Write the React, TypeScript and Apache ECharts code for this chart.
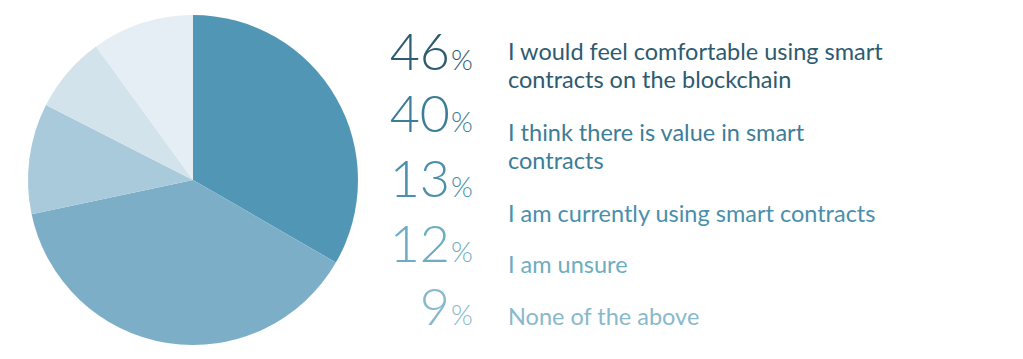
import React, { useEffect, useRef } from "react";
import * as echarts from "echarts";

// Pie slice shares as drawn in the picture (clockwise from 12 o'clock)
const sliceShares = [40, 46, 13, 9, 12];
const sliceColors = ["#5197b5", "#7cafc7", "#a8cadb", "#d2e3eb", "#e5eef4"];

// Legend rows
const percents = [46, 40, 13, 12, 9];
const labels = [
  "I would feel comfortable using smart\ncontracts on the blockchain",
  "I think there is value in smart\ncontracts",
  "I am currently using smart contracts",
  "I am unsure",
  "None of the above",
];
const rowColors = ["#2d5b6f", "#3d7d98", "#4a8fac", "#6eadc1", "#88b9cb"];

// layout (baselines in px)
const numBaselines = [70, 131.7, 196.7, 261.7, 325];
const labelBaselines = [60, 140.7, 221.7, 273.3, 325];

const CENTRAL = 0.387; // Lato: alphabetic baseline - central baseline (em)

export default function App() {
  const ref = useRef<HTMLDivElement>(null);
  useEffect(() => {
    document.body.style.margin = "0";
    const chart = echarts.init(ref.current!, null, { renderer: "svg" });
    const graphics: any[] = [];
    percents.forEach((p, i) => {
      const numFs = 52;
      const pctFs = 28;
      graphics.push({
        type: "text",
        x: 450,
        y: numBaselines[i] - CENTRAL * numFs,
        silent: true,
        style: {
          text: String(p),
          fontFamily: "Lato",
          fontWeight: 300,
          fontSize: numFs,
          fill: rowColors[i],
          align: "right",
          verticalAlign: "middle",
        },
      });
      graphics.push({
        type: "text",
        x: 451,
        y: numBaselines[i] - CENTRAL * pctFs,
        silent: true,
        style: {
          text: "%",
          fontFamily: "Lato",
          fontWeight: 300,
          fontSize: pctFs,
          fill: rowColors[i],
          align: "left",
          verticalAlign: "middle",
        },
      });
      const lfs = 23.5;
      const lh = 28;
      graphics.push({
        type: "text",
        x: 508,
        y: labelBaselines[i] - CENTRAL * lfs - lh / 2,
        silent: true,
        style: {
          text: labels[i],
          fontFamily: "Lato",
          fontWeight: 400,
          fontSize: lfs,
          lineHeight: lh,
          fill: rowColors[i],
          align: "left",
          verticalAlign: "top",
        },
      });
    });
    chart.setOption({
      animation: false,
      backgroundColor: "#ffffff",
      series: [
        {
          type: "pie",
          center: [193, 180],
          radius: 165,
          startAngle: 90,
          clockwise: true,
          silent: true,
          label: { show: false },
          labelLine: { show: false },
          itemStyle: { borderWidth: 0 },
          data: sliceShares.map((v, i) => ({
            value: v,
            itemStyle: { color: sliceColors[i] },
          })),
        },
      ],
      graphic: graphics,
    });
    return () => chart.dispose();
  }, []);
  return (
    <div
      ref={ref}
      style={{ position: "absolute", left: 0, top: 0, width: 1023, height: 359 }}
    />
  );
}
